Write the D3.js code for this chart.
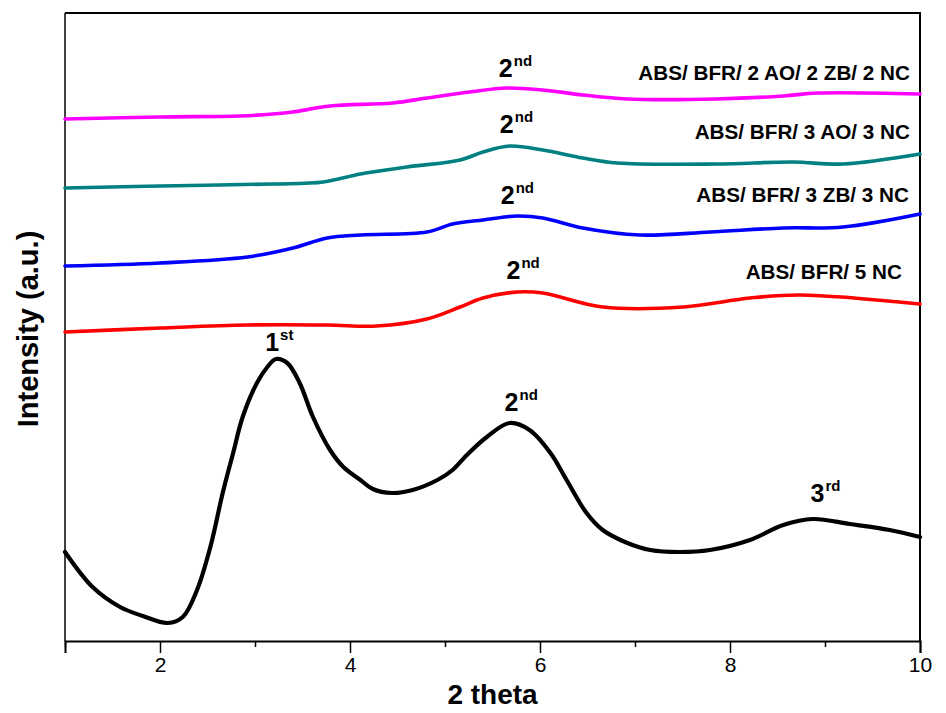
<!DOCTYPE html>
<html><head><meta charset="utf-8">
<script src="https://cdn.jsdelivr.net/npm/d3@7/dist/d3.min.js"></script>
<style>
body{margin:0;background:#fff}
svg{display:block}
text{font-family:"Liberation Sans",Arial,Helvetica,sans-serif}
</style>
</head><body>
<svg id="chart" width="946" height="713"></svg>
<script>
// ---- data (2 theta in degrees, intensity in arbitrary units) ----
const xTicks = [2, 4, 6, 8, 10];
const xMinorTicks = [1, 3, 5, 7, 9];

const seriesNames = [
  "ABS/ BFR/ 2 AO/ 2 ZB/ 2 NC",
  "ABS/ BFR/ 3 AO/ 3 NC",
  "ABS/ BFR/ 3 ZB/ 3 NC",
  "ABS/ BFR/ 5 NC",
  "ABS/ BFR"
];
const seriesColors = ["#ff00ff", "#008080", "#0000ff", "#ff0000", "#000000"];

const magentaX = [1.00, 2.00, 2.84, 3.19, 3.40, 3.79, 4.45, 4.81, 5.26, 5.65, 6.03, 6.45, 6.92, 7.86, 8.56, 8.92, 10.00];
const magentaY = [522, 524, 525, 527, 529, 535, 538, 543, 549, 553, 551, 546, 542, 542, 545, 548, 547];

const tealX = [1.00, 2.00, 3.19, 3.72, 4.11, 4.60, 5.16, 5.40, 5.68, 6.03, 6.45, 6.81, 7.86, 8.66, 9.19, 10.00];
const tealY = [453, 455, 457, 459, 467, 474, 481, 489, 495, 491, 483, 478, 477, 479, 477, 487];

const blueX = [1.00, 2.00, 2.92, 3.40, 3.76, 4.11, 4.81, 5.08, 5.40, 5.76, 6.03, 6.45, 7.05, 7.79, 8.56, 9.19, 10.00];
const blueY = [375, 378, 384, 393, 403, 406, 409, 417, 421, 425, 423, 413, 406, 409, 413, 414, 427];

const redX = [1.00, 2.00, 2.92, 3.76, 4.28, 4.81, 5.16, 5.40, 5.76, 6.03, 6.66, 7.51, 8.21, 8.74, 10.00];
const redY = [309, 313, 316, 316, 315, 322, 334, 343, 349, 348, 334, 334, 343, 346, 337];

const blackX = [1.00, 1.29, 1.58, 1.82, 2.08, 2.24, 2.39, 2.53, 2.66, 2.77, 2.87, 3.02, 3.13, 3.22, 3.34, 3.47, 3.61, 3.79, 3.93, 4.11, 4.24, 4.44, 4.66, 4.92, 5.08, 5.23, 5.44, 5.68, 5.89, 6.11, 6.28, 6.49, 6.66, 6.92, 7.16, 7.47, 7.79, 8.21, 8.56, 8.87, 9.26, 9.68, 10.00];
const blackY = [89, 54, 34, 25, 18, 24, 51, 94, 148, 188, 224, 258, 274, 282, 278, 258, 224, 191, 174, 161, 152, 148, 151, 161, 171, 186, 204, 218, 211, 188, 161, 128, 111, 98, 91, 89, 91, 101, 116, 122, 117, 111, 104];

const seriesX = [magentaX, tealX, blueX, redX, blackX];
const seriesY = [magentaY, tealY, blueY, redY, blackY];

// peak labels: main text, superscript, position in data units (2theta, intensity)
const peakMain = ["2", "2", "2", "2", "1", "2", "3"];
const peakSup  = ["nd", "nd", "nd", "nd", "st", "nd", "rd"];
const peakX    = [5.64, 5.65, 5.66, 5.72, 3.18, 5.70, 8.92];
const peakY    = [564, 508, 437, 362, 290, 230, 139];

// ---- layout ----
const svg = d3.select("#chart");
const W = 946, H = 713;
const m = {left: 65, right: 26, top: 13, bottom: 72};
const x = d3.scaleLinear().domain([1, 10]).range([m.left, W - m.right]);
const y = d3.scaleLinear().domain([0, 628]).range([H - m.bottom, m.top]);

const line = d3.line()
  .x(d => x(d[0])).y(d => y(d[1]))
  .curve(d3.curveCatmullRom.alpha(0.5));

// frame (top, right)
svg.append("path")
  .attr("d", `M${x(1)},${y(628)}H${x(10)}V${y(0)}`)
  .attr("fill", "none").attr("stroke", "#000").attr("stroke-width", 2);
// left axis line (thinner)
svg.append("line")
  .attr("x1", x(1)).attr("x2", x(1)).attr("y1", y(628)).attr("y2", y(0))
  .attr("stroke", "#111").attr("stroke-width", 1.6);

// series
seriesX.forEach((xs, i) => {
  const pts = xs.map((v, j) => [v, seriesY[i][j]]);
  svg.append("path")
    .datum(pts)
    .attr("d", line)
    .attr("fill", "none")
    .attr("stroke", seriesColors[i])
    .attr("stroke-width", i === 4 ? 4.2 : 3.6)
    .attr("stroke-linejoin", "round")
    .attr("stroke-linecap", "round");
});

// x axis
const xAxis = d3.axisBottom(x).tickValues(xTicks).tickSize(12).tickPadding(4).tickFormat(d3.format("d"));
const gx = svg.append("g").attr("transform", `translate(0,${y(0)})`).call(xAxis);
gx.select(".domain").attr("stroke-width", 2);
gx.selectAll(".tick line").attr("stroke-width", 1.5);
gx.selectAll(".tick text").attr("font-size", 21).attr("fill", "#000")
  .style("font-family", '"Liberation Sans",Arial,sans-serif');
const xMinor = d3.axisBottom(x).tickValues(xMinorTicks).tickSize(6).tickFormat("");
const gm = svg.append("g").attr("transform", `translate(0,${y(0)})`).call(xMinor);
gm.select(".domain").remove();
gm.selectAll(".tick line").attr("stroke-width", 1.5);

// axis titles
svg.append("text")
  .attr("x", (x(1) + x(10)) / 2).attr("y", 704)
  .attr("text-anchor", "middle").attr("font-weight", "bold").attr("font-size", 28)
  .text("2 theta");
svg.append("text")
  .attr("transform", `translate(38,${(y(0) + y(628)) / 2 + 2}) rotate(-90)`)
  .attr("text-anchor", "middle").attr("font-weight", "bold").attr("font-size", 29)
  .text("Intensity (a.u.)");

// series labels (right aligned near the right frame)
const labelIdx = [0, 1, 2, 3];
const labelY = [561, 502, 439, 362];
const labelOff = [10, 10, 11, 18];
labelIdx.forEach((i, k) => {
  svg.append("text")
    .attr("x", x(10) - labelOff[k]).attr("y", y(labelY[k]))
    .attr("text-anchor", "end").attr("font-weight", "bold").attr("font-size", 20.7)
    .text(seriesNames[i]);
});

// peak labels
peakMain.forEach((t, i) => {
  svg.append("text")
    .attr("x", x(peakX[i])).attr("y", y(peakY[i]))
    .attr("text-anchor", "middle").attr("font-weight", "bold").attr("font-size", 25)
    .text(t);
  svg.append("text")
    .attr("x", x(peakX[i]) + 8).attr("y", y(peakY[i]) - 11)
    .attr("text-anchor", "start").attr("font-weight", "bold").attr("font-size", 15)
    .text(peakSup[i]);
});
</script>
</body></html>
